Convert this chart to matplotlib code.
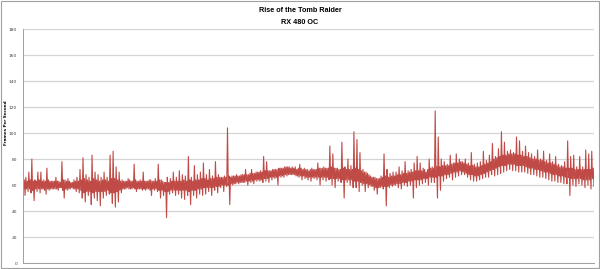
import numpy as np
import matplotlib
matplotlib.use("Agg")
import matplotlib.pyplot as plt

# frame rate trace, per ~3px column:
# fps_hi / fps_lo = highest and lowest reach of the trace (spikes)
# band_top / band_bot = edges of the dense core of the trace
fps_hi = [75, 66, 70, 80, 64, 70, 70, 64, 73, 63,
          63, 66, 63, 78, 64, 65, 62, 64, 66, 72,
          81, 68, 66, 83, 70, 68, 66, 70, 66, 83,
          86, 74, 70, 64, 63, 65, 63, 76, 63, 64,
          70, 63, 64, 63, 65, 76, 64, 62, 66, 65,
          70, 66, 71, 68, 67, 82, 66, 75, 68, 70,
          77, 68, 72, 67, 78, 68, 66, 67, 104, 66,
          67, 68, 67, 68, 72, 68, 72, 69, 70, 71,
          82, 78, 71, 72, 72, 73, 73, 74, 74, 73,
          73, 72, 76, 72, 72, 71, 73, 72, 77, 73,
          74, 73, 90, 84, 73, 72, 93, 74, 80, 75,
          101, 95, 85, 72, 70, 68, 66, 66, 65, 67,
          84, 72, 69, 70, 70, 74, 71, 78, 71, 72,
          77, 82, 77, 73, 70, 80, 74, 117, 97, 80,
          78, 76, 83, 77, 84, 80, 78, 80, 77, 85,
          76, 77, 78, 86, 79, 83, 92, 82, 88, 101,
          93, 86, 87, 85, 97, 94, 86, 90, 85, 84,
          82, 87, 80, 86, 79, 84, 78, 82, 76, 75,
          78, 94, 82, 83, 74, 82, 74, 87, 84, 86]
fps_lo = [52, 55, 54, 48, 55, 54, 57, 53, 56, 57,
          57, 56, 58, 50, 56, 57, 57, 55, 54, 50,
          47, 52, 45, 50, 48, 44, 50, 52, 53, 46,
          43, 47, 54, 57, 58, 57, 58, 55, 57, 56,
          56, 57, 52, 56, 55, 50, 52, 35, 53, 54,
          52, 53, 50, 49, 52, 45, 52, 50, 53, 52,
          53, 55, 52, 56, 54, 58, 55, 59, 45, 60,
          61, 61, 62, 62, 60, 62, 61, 63, 63, 62,
          63, 62, 64, 65, 60, 66, 66, 67, 68, 68,
          67, 66, 64, 65, 64, 63, 65, 64, 60, 64,
          63, 64, 60, 58, 63, 62, 50, 62, 60, 58,
          58, 55, 60, 55, 58, 59, 56, 53, 58, 57,
          44, 58, 59, 60, 58, 57, 60, 59, 60, 50,
          58, 60, 61, 62, 60, 62, 62, 50, 56, 63,
          65, 66, 64, 66, 67, 68, 68, 66, 64, 63,
          63, 64, 65, 66, 66, 68, 67, 68, 69, 70,
          71, 72, 71, 71, 70, 70, 70, 69, 68, 68,
          67, 66, 66, 65, 64, 63, 63, 62, 62, 61,
          61, 52, 60, 59, 61, 60, 58, 60, 57, 59]
band_top = [64, 63, 64, 63, 63, 64, 63, 63, 64, 63,
            63, 63, 62, 64, 63, 63, 62, 63, 63, 64,
            65, 64, 63, 65, 64, 63, 64, 64, 63, 65,
            65, 64, 63, 63, 63, 64, 63, 64, 63, 63,
            63, 63, 64, 63, 63, 64, 63, 62, 62, 63,
            63, 63, 63, 64, 63, 64, 63, 64, 64, 65,
            65, 64, 65, 65, 66, 66, 66, 66, 67, 67,
            67, 67, 68, 68, 68, 69, 69, 70, 70, 70,
            71, 71, 71, 72, 72, 73, 73, 74, 74, 74,
            74, 73, 73, 73, 72, 72, 72, 72, 73, 73,
            73, 73, 74, 73, 73, 72, 73, 72, 72, 72,
            73, 72, 71, 70, 69, 67, 66, 65, 65, 66,
            67, 66, 67, 67, 68, 68, 69, 69, 70, 70,
            71, 71, 71, 72, 72, 73, 73, 74, 74, 75,
            75, 75, 76, 77, 77, 78, 77, 76, 75, 75,
            74, 74, 75, 76, 77, 78, 80, 81, 82, 83,
            83, 84, 84, 84, 83, 83, 82, 82, 81, 80,
            80, 79, 79, 78, 77, 77, 76, 75, 74, 74,
            73, 73, 73, 72, 72, 72, 72, 72, 72, 73]
band_bot = [57, 57, 57, 56, 57, 57, 57, 56, 57, 57,
            57, 57, 58, 56, 57, 57, 58, 57, 57, 56,
            54, 55, 55, 54, 55, 55, 55, 55, 56, 54,
            54, 55, 56, 57, 57, 57, 57, 57, 57, 57,
            57, 57, 56, 57, 57, 56, 56, 55, 55, 56,
            56, 56, 56, 56, 56, 55, 56, 56, 57, 57,
            58, 58, 58, 58, 59, 59, 60, 60, 60, 61,
            61, 62, 62, 62, 63, 63, 63, 64, 64, 64,
            65, 65, 66, 66, 66, 67, 67, 68, 68, 68,
            68, 67, 67, 67, 66, 66, 66, 66, 66, 66,
            66, 66, 65, 65, 65, 65, 64, 64, 64, 64,
            63, 63, 62, 61, 61, 60, 59, 58, 58, 59,
            59, 59, 60, 60, 61, 61, 62, 62, 63, 63,
            64, 64, 64, 65, 65, 66, 66, 66, 67, 67,
            68, 68, 69, 70, 70, 71, 70, 69, 68, 68,
            67, 67, 68, 69, 70, 71, 72, 73, 74, 75,
            75, 76, 76, 76, 75, 75, 75, 74, 73, 73,
            72, 72, 71, 70, 70, 69, 68, 68, 67, 67,
            66, 66, 65, 65, 65, 65, 64, 64, 64, 65]

y_ticks = [0, 20, 40, 60, 80, 100, 120, 140, 160, 180]

# walk each column top -> core -> bottom so the trace draws as one line
fps = np.column_stack([fps_hi, band_bot, band_top, fps_lo]).ravel()
frames = np.arange(len(fps))

fig = plt.figure(figsize=(6, 2.69), dpi=100)
ax = fig.add_axes([0.038, 0.022, 0.952, 0.870])

ax.plot(frames, fps, color='#bf4a46', lw=0.8)

ax.set_ylim(0, 180)
ax.set_xlim(0, len(fps) - 1)
ax.set_yticks(y_ticks)
ax.set_yticklabels([str(t) for t in y_ticks], fontsize=3.2, color='#404040')
ax.set_xticks([])
ax.tick_params(axis='y', length=0, pad=4)
ax.grid(axis='y', color='#d4d4d4', lw=0.9)
ax.set_axisbelow(True)
for s in ['top', 'right']:
    ax.spines[s].set_visible(False)
for s in ['left', 'bottom']:
    ax.spines[s].set_color('#a0a0a0')
    ax.spines[s].set_linewidth(0.7)

# axis title sits just left of the tick labels
fig.text(6 / 600, 0.545, 'Frames Per Second', rotation=90, ha='center', va='center',
         fontsize=3.0, fontweight='bold')

fig.text(0.5, 0.975, 'Rise of the Tomb Raider', ha='center', va='top',
         fontsize=5.2, fontweight='bold', family='Liberation Sans')
fig.text(0.5, 0.93, 'RX 480 OC', ha='center', va='top',
         fontsize=5.2, fontweight='bold', family='Liberation Sans')

# grey frame around the whole chart
fig.patches.append(plt.Rectangle((0.002, 0.004), 0.996, 0.992, transform=fig.transFigure,
                                 fill=False, edgecolor='#a0a0a0', lw=0.8))

fig.savefig('out.png', dpi=100)
